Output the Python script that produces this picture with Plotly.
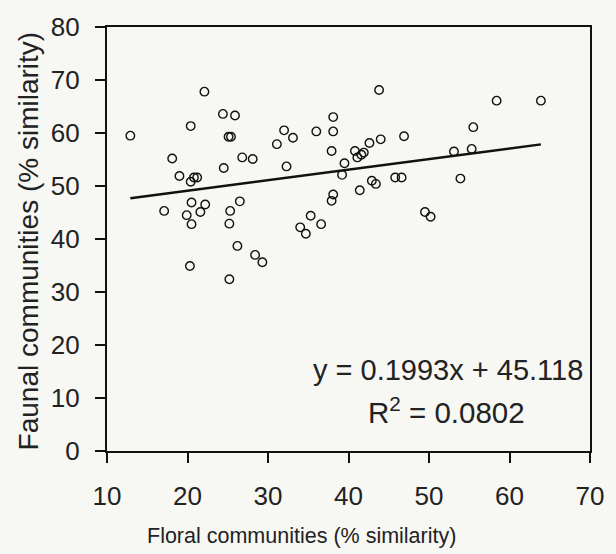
import plotly.graph_objects as go

floral = [12.9, 17.1, 18.1, 19.0, 19.9, 20.4, 20.4, 20.5, 20.5, 20.3, 20.8, 21.2, 21.6, 22.1, 22.2,
          24.4, 24.5, 25.1, 25.4, 25.3, 25.2, 25.2, 25.9, 26.5, 26.2, 26.8, 28.1, 28.4, 29.3,
          31.1, 32.0, 32.3, 33.1, 34.0, 34.7, 35.3, 36.0, 36.6, 37.9, 38.1, 38.1, 38.1, 37.9,
          39.2, 39.5, 40.8, 41.1, 41.6, 41.9, 41.4, 42.6, 42.9, 43.4, 43.8, 44.0, 45.8, 46.6,
          46.9, 49.5, 50.2, 53.1, 53.9, 55.3, 55.5, 58.4, 63.9]
faunal = [59.5, 45.3, 55.2, 51.9, 44.5, 61.3, 50.8, 46.9, 42.8, 34.9, 51.6, 51.6, 45.1, 67.8, 46.5,
          63.6, 53.4, 59.3, 59.3, 45.3, 42.9, 32.4, 63.3, 47.1, 38.7, 55.4, 55.1, 37.0, 35.6,
          57.9, 60.5, 53.7, 59.1, 42.2, 41.0, 44.4, 60.3, 42.8, 56.6, 63.0, 60.3, 48.4, 47.2,
          52.1, 54.3, 56.6, 55.4, 55.9, 56.3, 49.2, 58.1, 51.0, 50.4, 68.1, 58.8, 51.6, 51.6,
          59.4, 45.1, 44.2, 56.5, 51.4, 57.0, 61.1, 66.1, 66.1]
slope = 0.1993
intercept = 45.118
r2 = 0.0802
x_ticks = [10, 20, 30, 40, 50, 60, 70]
y_ticks = [0, 10, 20, 30, 40, 50, 60, 70, 80]
x_title = "Floral communities (% similarity)"
y_title = "Faunal communities (% similarity)"

fit_x = [min(floral), max(floral)]
fit_y = [slope * v + intercept for v in fit_x]

FONT = "Liberation Sans, Arial, Helvetica, sans-serif"
TXT = "#222222"

fig = go.Figure()
fig.add_trace(go.Scatter(x=floral, y=faunal, mode="markers",
                         marker=dict(symbol="circle-open", size=8.5, color="#111111",
                                     line=dict(width=1.4, color="#111111")),
                         showlegend=False))
fig.add_trace(go.Scatter(x=fit_x, y=fit_y, mode="lines",
                         line=dict(color="#111111", width=2.5), showlegend=False))

fig.add_annotation(x=0.989, y=0.191, xref="paper", yref="paper",
                   text=f"y = {slope}x + {intercept}", showarrow=False,
                   xanchor="right", yanchor="middle",
                   font=dict(family=FONT, size=29, color=TXT))
fig.add_annotation(x=0.703, y=0.095, xref="paper", yref="paper",
                   text=f"R<sup>2</sup> = {r2}", showarrow=False,
                   xanchor="center", yanchor="middle",
                   font=dict(family=FONT, size=29.5, color=TXT))

# axis titles as annotations (x title is offset left of plot centre in the reference)
fig.add_annotation(x=0.403, y=-0.2, xref="paper", yref="paper",
                   text=x_title, showarrow=False, xanchor="center", yanchor="middle",
                   font=dict(family=FONT, size=21.5, color=TXT))
fig.add_annotation(x=-0.163, y=0.495, xref="paper", yref="paper",
                   text=y_title, showarrow=False, textangle=-90,
                   xanchor="center", yanchor="middle",
                   font=dict(family=FONT, size=28, color=TXT))

axis_common = dict(showline=True, linecolor="#111111", linewidth=2.2, mirror=True,
                   ticks="outside", ticklen=10, tickwidth=2.2, tickcolor="#111111",
                   showgrid=False, zeroline=False,
                   tickfont=dict(family=FONT, size=26, color=TXT))

fig.update_xaxes(range=[10, 70], tickvals=x_ticks, ticklabelstandoff=11, **axis_common)
fig.update_yaxes(range=[0, 80], tickvals=y_ticks, ticklabelstandoff=10, **axis_common)

fig.update_layout(width=616, height=554,
                  margin=dict(l=107, r=17, t=23, b=103),
                  paper_bgcolor="#f7f7f3", plot_bgcolor="#f7f7f3")

fig.write_html("out.html")
